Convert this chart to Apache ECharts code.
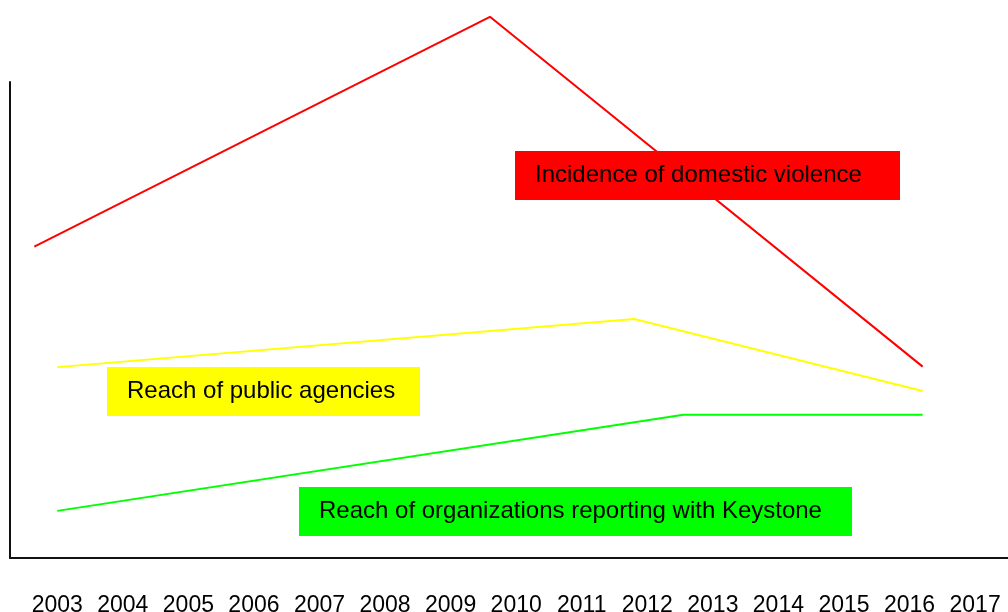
<!DOCTYPE html>
<html>
<head>
<meta charset="utf-8">
<script src="https://cdn.jsdelivr.net/npm/echarts@6/dist/echarts.min.js"></script>
<style>
html,body{margin:0;padding:0;background:#fff;}
#chart{width:1008px;height:612px;}
</style>
</head>
<body>
<div id="chart"></div>
<script>
// Tick labels (years)
const years = [2003,2004,2005,2006,2007,2008,2009,2010,2011,2012,2013,2014,2015,2016,2017];

// Series values: [year position, relative level]
const domesticViolence = [[2002.65, 65.4], [2009.6, 113.7], [2016.2, 40.2]];
const publicAgencies   = [[2003.0, 40.1], [2011.8, 50.2], [2016.2, 35.1]];
const keystoneOrgs     = [[2003.0, 9.9], [2012.55, 30.1], [2016.2, 30.1]];

// Series names (shown as boxed annotations)
const seriesNames = ['Incidence of domestic violence', 'Reach of public agencies', 'Reach of organizations reporting with Keystone'];
const seriesColors = ['#ff0000', '#ffff00', '#00ff00'];

const FONT = '"Liberation Sans", Arial, sans-serif';
const chart = echarts.init(document.getElementById('chart'));

function box(x, y, w, h, color, text) {
  return {
    type: 'group',
    left: x, top: y,
    z: 100,
    children: [
      { type: 'rect', z: 100, shape: { x: 0, y: 0, width: w, height: h }, style: { fill: color } },
      { type: 'text', z: 101, x: 20, y: h / 2, style: { text: text, fill: '#000', font: '24px ' + FONT, verticalAlign: 'middle', align: 'left' } }
    ]
  };
}

chart.setOption({
  animation: false,
  backgroundColor: '#fff',
  grid: { left: 10, right: 0, top: 82, bottom: 54, containLabel: false, outerBoundsMode: 'none' },
  xAxis: {
    type: 'value',
    min: 2002.279,
    max: 2017.502,
    splitLine: { show: false },
    axisTick: { show: false },
    axisLine: { show: true, lineStyle: { color: '#111', width: 2 } },
    axisLabel: {
      customValues: years,
      formatter: v => String(Math.round(v)),
      color: '#000',
      fontSize: 23,
      fontFamily: FONT,
      margin: 36
    }
  },
  yAxis: {
    type: 'value',
    min: 0,
    max: 100,
    splitLine: { show: false },
    axisTick: { show: false },
    axisLabel: { show: false },
    axisLine: { show: true, lineStyle: { color: '#111', width: 2 } }
  },
  series: [
    { name: seriesNames[0], type: 'line', data: domesticViolence, symbol: 'none', clip: false, silent: true, z: 2, lineStyle: { color: seriesColors[0], width: 2 } },
    { name: seriesNames[1], type: 'line', data: publicAgencies, symbol: 'none', clip: false, silent: true, z: 2, lineStyle: { color: seriesColors[1], width: 2 } },
    { name: seriesNames[2], type: 'line', data: keystoneOrgs, symbol: 'none', clip: false, silent: true, z: 2, lineStyle: { color: seriesColors[2], width: 2 } }
  ],
  graphic: [
    box(515, 151, 385, 49, seriesColors[0], seriesNames[0]),
    box(107, 367, 313, 49, seriesColors[1], seriesNames[1]),
    box(299, 487, 553, 49, seriesColors[2], seriesNames[2])
  ]
});
</script>
</body>
</html>
